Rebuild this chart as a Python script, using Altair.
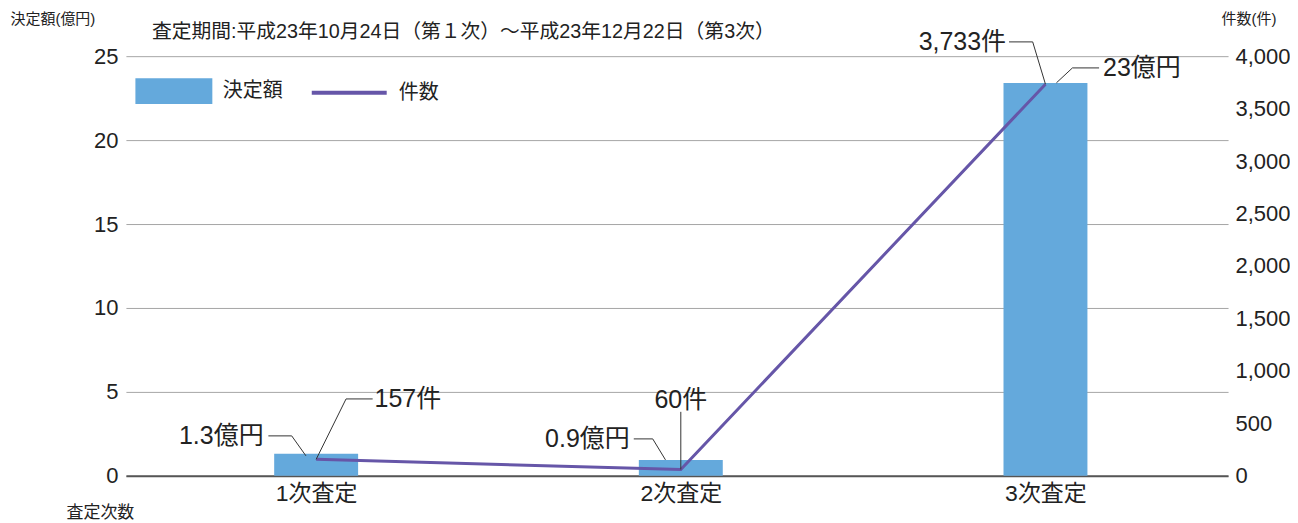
import json
import altair as alt
import pandas as pd

# ---------------- data ----------------
categories = ["1次査定", "2次査定", "3次査定"]
amounts = [1.31, 0.94, 23.4]          # 決定額 (億円)
counts = [157, 60, 3733]              # 件数 (件)
amount_labels = ["1.3億円", "0.9億円", "23億円"]
count_labels = ["157件", "60件", "3,733件"]
left_ticks = [0, 5, 10, 15, 20, 25]
right_ticks = [0, 500, 1000, 1500, 2000, 2500, 3000, 3500, 4000]
subtitle = "査定期間:平成23年10月24日（第１次）～平成23年12月22日（第3次）"

positions = [i + 0.5 for i in range(len(categories))]

# ---------------- annotation layout (data units) ----------------
amt_leader_x = [[0.472, 0.433, 0.369], [1.458, 1.423, 1.371], [2.530, 2.574, 2.647]]
amt_leader_y = [[1.19, 2.38, 2.38], [0.95, 2.20, 2.20], [23.41, 24.30, 24.30]]
amt_label_x = [0.356, 1.360, 2.658]
amt_label_y = [2.38, 2.20, 24.30]
amt_label_align = ["right", "right", "left"]

cnt_elbow_x = [[0.582, 0.655], [1.5], [2.465, 2.400]]
cnt_elbow_y = [[733, 733], [610], [4136, 4136]]
cnt_label_x = [0.660, 1.5, 2.392]
cnt_label_y = [733, 724, 4136]
cnt_label_align = ["left", "center", "right"]

# ---------------- styles ----------------
FONT = "Liberation Sans, Noto Sans CJK JP"
BAR_COLOR = "#64a9dc"
LINE_COLOR = "#6656a8"
X_DOMAIN = [-0.008, 2.987]
W, H = 1103, 420

bars_df = pd.DataFrame({"pos": positions, "amount": amounts, "cat": categories,
                        "series": ["決定額"] * len(categories)})
line_df = pd.DataFrame({"pos": positions, "count": counts, "cat": categories,
                        "series": ["件数"] * len(categories)})

rows = []
for i in range(len(amt_leader_x)):
    for j, (lx, ly) in enumerate(zip(amt_leader_x[i], amt_leader_y[i])):
        rows.append({"g": i, "o": j, "x": lx, "y": ly})
amt_leader_df = pd.DataFrame(rows)

rows = []
for i in range(len(counts)):
    rows.append({"g": i, "o": 0, "x": positions[i], "y": counts[i]})
    for j, (lx, ly) in enumerate(zip(cnt_elbow_x[i], cnt_elbow_y[i])):
        rows.append({"g": i, "o": j + 1, "x": lx, "y": ly})
cnt_leader_df = pd.DataFrame(rows)

xscale = alt.Scale(domain=X_DOMAIN, nice=False, zero=False)
yL = alt.Scale(domain=[0, 25], nice=False)
yR = alt.Scale(domain=[0, 4000], nice=False)

label_expr = json.dumps(categories) + "[floor(datum.value)]"

x_axis = alt.Axis(values=positions, labelExpr=label_expr, grid=False, ticks=False,
                  domainColor="#555555", domainWidth=2, labelFont=FONT, labelFontSize=23,
                  labelColor="#222222", labelPadding=7, title="査定次数", titleFont=FONT,
                  titleFontSize=17, titleFontWeight="normal", titleColor="#222222",
                  titleX=-60, titleY=37, titleAlign="left", titleBaseline="middle")

left_axis = alt.Axis(values=left_ticks, orient="left", grid=True, gridColor="#a6a6a6",
                     gridWidth=1, domain=False, ticks=False, labelFont=FONT, labelFontSize=22,
                     labelColor="#222222", labelPadding=8, title="決定額(億円)", titleFont=FONT,
                     titleFontSize=15, titleFontWeight="normal", titleColor="#222222",
                     titleAngle=0, titleX=-116, titleY=-38, titleAlign="left",
                     titleBaseline="middle")

right_axis = alt.Axis(values=right_ticks, orient="right",
                      labelExpr="format(datum.value, ',')", grid=False, domain=False,
                      ticks=False, labelFont=FONT, labelFontSize=22, labelColor="#222222",
                      labelPadding=7, title="件数(件)", titleFont=FONT, titleFontSize=15,
                      titleFontWeight="normal", titleColor="#222222", titleAngle=0,
                      titleX=-7, titleY=-38, titleAlign="left", titleBaseline="middle")


def X(field):
    return alt.X(field, scale=xscale, axis=x_axis)


def YL(field):
    return alt.Y(field, scale=yL, axis=left_axis)


def YR(field):
    return alt.Y(field, scale=yR, axis=right_axis)


bars = alt.Chart(bars_df).mark_bar(size=84).encode(
    x=X("pos:Q"),
    y=YL("amount:Q"),
    color=alt.Color("series:N", scale=alt.Scale(domain=["決定額"], range=[BAR_COLOR]),
                    legend=alt.Legend(orient="none", legendX=22, legendY=9, title=None,
                                      symbolType="M-1.5,-0.5H1.5V0.5H-1.5Z", symbolSize=2635,
                                      symbolStrokeWidth=0, labelOffset=23, labelFont=FONT,
                                      labelFontSize=20, labelColor="#222222", padding=0)),
)

amt_leaders = alt.Chart(amt_leader_df).mark_line(color="#333333", strokeWidth=1).encode(
    x=X("x:Q"), y=YL("y:Q"), detail="g:N", order="o:Q",
)

amt_texts = []
for i in range(len(amount_labels)):
    d = pd.DataFrame({"x": [amt_label_x[i]], "y": [amt_label_y[i]], "t": [amount_labels[i]]})
    amt_texts.append(
        alt.Chart(d).mark_text(align=amt_label_align[i], baseline="middle", font=FONT,
                               fontSize=25, color="#222222").encode(
            x=X("x:Q"), y=YL("y:Q"), text="t:N",
        )
    )

left_layer = alt.layer(bars, amt_leaders, *amt_texts)

line = alt.Chart(line_df).mark_line(strokeWidth=3).encode(
    x=X("pos:Q"),
    y=YR("count:Q"),
    color=alt.Color("series:N", scale=alt.Scale(domain=["件数"], range=[LINE_COLOR]),
                    legend=alt.Legend(orient="none", legendX=184, legendY=-3, title=None,
                                      symbolType="stroke", symbolSize=5625,
                                      symbolStrokeWidth=4, labelOffset=10, labelFont=FONT,
                                      labelFontSize=20, labelColor="#222222", padding=0)),
)

cnt_leaders = alt.Chart(cnt_leader_df).mark_line(color="#333333", strokeWidth=1).encode(
    x=X("x:Q"), y=YR("y:Q"), detail="g:N", order="o:Q",
)

cnt_texts = []
for i in range(len(count_labels)):
    d = pd.DataFrame({"x": [cnt_label_x[i]], "y": [cnt_label_y[i]], "t": [count_labels[i]]})
    cnt_texts.append(
        alt.Chart(d).mark_text(align=cnt_label_align[i], baseline="middle", font=FONT,
                               fontSize=25, color="#222222").encode(
            x=X("x:Q"), y=YR("y:Q"), text="t:N",
        )
    )

right_layer = alt.layer(line, cnt_leaders, *cnt_texts)

chart = alt.layer(left_layer, right_layer).resolve_scale(
    y="independent", color="independent"
).properties(
    width=W, height=H,
    background="white",
    title=alt.TitleParams(subtitle, anchor="start", frame="group", dx=26, offset=-31,
                          font=FONT, fontSize=19.8, fontWeight="normal", color="#222222"),
    autosize=alt.AutoSizeParams(type="none"),
    padding={"left": 118, "top": 48, "right": 62, "bottom": 46},
).configure_view(stroke=None)

chart.save("out.html", embed_options={"renderer": "svg", "actions": False})
